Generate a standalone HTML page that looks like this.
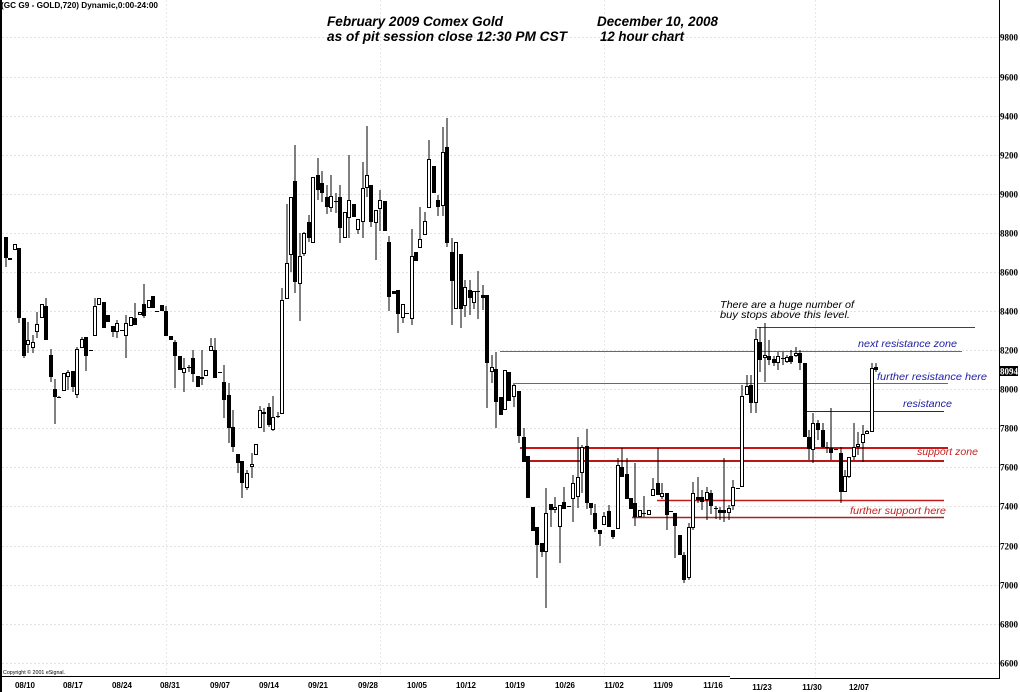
<!DOCTYPE html>
<html><head><meta charset="utf-8"><style>
html,body{margin:0;padding:0;background:#fff}
svg{display:block}
.yl{font-family:"Liberation Serif",serif;font-weight:bold;font-size:9px;fill:#000}
.dl{font-family:"Liberation Sans",sans-serif;font-weight:bold;font-size:8px;fill:#000}
.ti{font-family:"Liberation Sans",sans-serif;font-weight:bold;font-style:italic;font-size:13.5px;fill:#000}
.an{font-family:"Liberation Sans",sans-serif;font-style:italic;font-size:10.5px}
</style></head><body>
<svg width="1020" height="692" viewBox="0 0 1020 692" xmlns="http://www.w3.org/2000/svg">
<rect width="1020" height="692" fill="#fff"/>
<!-- grid -->
<g stroke="#e2e2e2" stroke-width="1" stroke-dasharray="2,2">
<path d="M2 37.5H999M2 77.5H999M2 116.5H999M2 155.5H999M2 194.5H999M2 233.5H999M2 272.5H999M2 311.5H999M2 350.5H999M2 389.5H999M2 428.5H999M2 467.5H999M2 506.5H999M2 546.5H999M2 585.5H999M2 624.5H999M2 663.5H999"/>
<path d="M166.5 0V677M380.5 0V677M604.5 0V677M815.5 0V677" stroke="#e8e8e8"/>
</g>
<!-- axes -->
<rect x="0" y="0" width="2" height="692" fill="#000"/>
<path d="M999.5 0V679" stroke="#000" stroke-width="1"/>
<path d="M0 676.5H730M730 678.5H999" stroke="#000" stroke-width="1"/>
<!-- y labels -->
<g class="yl">
<text x="1000" y="40.5">9800</text>
<text x="1000" y="80.5">9600</text>
<text x="1000" y="119.5">9400</text>
<text x="1000" y="158.5">9200</text>
<text x="1000" y="197.5">9000</text>
<text x="1000" y="236.5">8800</text>
<text x="1000" y="275.5">8600</text>
<text x="1000" y="314.5">8400</text>
<text x="1000" y="353.5">8200</text>
<text x="1000" y="392.5">8000</text>
<text x="1000" y="431.5">7800</text>
<text x="1000" y="470.5">7600</text>
<text x="1000" y="509.5">7400</text>
<text x="1000" y="549.5">7200</text>
<text x="1000" y="588.5">7000</text>
<text x="1000" y="627.5">6800</text>
<text x="1000" y="666.5">6600</text>
</g>
<rect x="999" y="366" width="19" height="10" fill="#000"/>
<text x="1000" y="374.5" class="yl" style="fill:#fff">8094</text>
<!-- date labels -->
<g class="dl" text-anchor="middle">
<text x="25" y="688">08/10</text>
<text x="73" y="688">08/17</text>
<text x="122" y="688">08/24</text>
<text x="170" y="688">08/31</text>
<text x="220" y="688">09/07</text>
<text x="269" y="688">09/14</text>
<text x="318" y="688">09/21</text>
<text x="368" y="688">09/28</text>
<text x="417" y="688">10/05</text>
<text x="466" y="688">10/12</text>
<text x="515" y="688">10/19</text>
<text x="565" y="688">10/26</text>
<text x="614" y="688">11/02</text>
<text x="663" y="688">11/09</text>
<text x="713" y="688">11/16</text>
<text x="762" y="690">11/23</text>
<text x="812" y="690">11/30</text>
<text x="859" y="690">12/07</text>
</g>
<text x="3" y="674" font-family="Liberation Sans, sans-serif" font-size="5.5" textLength="62" lengthAdjust="spacingAndGlyphs">Copyright © 2001 eSignal.</text>
<!-- header -->
<text x="1" y="8" font-family="Liberation Sans, sans-serif" font-weight="bold" font-size="8" textLength="157" lengthAdjust="spacingAndGlyphs">(GC G9 - GOLD,720) Dynamic,0:00-24:00</text>
<text x="327" y="26" class="ti" textLength="176" lengthAdjust="spacingAndGlyphs">February 2009 Comex Gold</text>
<text x="327" y="41" class="ti" textLength="240" lengthAdjust="spacingAndGlyphs">as of pit session close 12:30 PM CST</text>
<text x="597" y="26" class="ti" textLength="121" lengthAdjust="spacingAndGlyphs">December 10, 2008</text>
<text x="600" y="41" class="ti" textLength="84" lengthAdjust="spacingAndGlyphs">12 hour chart</text>
<!-- annotation lines -->
<path d="M757 327.5H975" stroke="#3434a4" stroke-width="1"/>
<path d="M500 351.5H962" stroke="#64648e" stroke-width="1"/>
<path d="M515 383.5H948" stroke="#64648e" stroke-width="1"/>
<path d="M807 411.5H944" stroke="#1c1ca4" stroke-width="1"/>
<path d="M520 448H948" stroke="#cc1414" stroke-width="2"/>
<path d="M526 461H944" stroke="#b81818" stroke-width="2"/>
<path d="M657 500.5H944" stroke="#c41a1a" stroke-width="1.5"/>
<path d="M632 517.5H944" stroke="#a42424" stroke-width="1.5"/>
<!-- annotation texts -->
<text x="720" y="308" class="an" fill="#000" textLength="134" lengthAdjust="spacingAndGlyphs">There are a huge number of</text>
<text x="720" y="318" class="an" fill="#000" textLength="130" lengthAdjust="spacingAndGlyphs">buy stops above this level.</text>
<text x="858" y="347" class="an" fill="#2020a4" textLength="99" lengthAdjust="spacingAndGlyphs">next resistance zone</text>
<text x="877" y="380" class="an" fill="#2020a4" textLength="110" lengthAdjust="spacingAndGlyphs">further resistance  here</text>
<text x="903" y="407" class="an" fill="#2020a4" textLength="49" lengthAdjust="spacingAndGlyphs">resistance</text>
<text x="917" y="455" class="an" fill="#c42020" textLength="61" lengthAdjust="spacingAndGlyphs">support zone</text>
<text x="850" y="514" class="an" fill="#c42020" textLength="96" lengthAdjust="spacingAndGlyphs">further support here</text>
<!-- wicks -->
<path fill="none" stroke="#000" stroke-width="1" d="M6 237V267M19 248V323M24 318V358M28 322V353M33 335V353M37 312V338M46 298V340M51 349V382M55 379V424M59 396V398M68 370V390M73 371V392M77 347V398M82 337V348M86 337V371M95 298V336M113 326V337M117 320V338M126 315V358M135 303V325M144 284V318M166 306V336M175 340V388M184 358V392M189 365V372M193 350V382M202 350V385M211 338V351M215 338V378M224 365V418M229 383V443M233 410V452M238 454V473M242 461V498M247 470V490M252 453V478M260 406V428M264 408V432M269 403V427M273 396V431M278 412V418M282 288V414M287 204V299M291 197V272M295 145V293M300 233V321M304 232V256M309 215V242M318 158V200M322 171V202M327 185V214M331 175V212M336 193V213M340 185V243M349 155V238M358 219V234M363 162V238M367 126V197M371 185V227M376 210V260M380 190V231M389 236V311M398 290V333M403 304V323M412 229V325M420 207V248M425 212V235M429 140V208M438 195V216M443 127V216M447 118V247M452 238V325M461 254V328M465 280V317M470 280V315M474 291V309M478 271V319M483 285V310M487 295V408M492 355V383M496 352V428M514 383V407M519 391V443M524 428V462M537 527V578M542 543V557M546 488V608M551 504V527M555 497V513M560 505V563M564 487V509M573 475V522M578 437V508M582 445V493M587 429V509M591 503V515M595 504V532M600 530V546M604 512V525M609 505V527M613 530V539M618 458V529M622 448V477M627 458V499M635 463V526M644 496V517M653 478V496M658 448V495M662 483V499M667 493V530M675 513V558M684 552V583M689 523V580M693 482V530M698 477V503M702 490V510M707 487V520M711 490V514M716 506V519M720 507V520M724 458V522M729 505V520M733 480V510M742 385V487M747 375V395M751 375V413M756 329V413M760 327V372M765 323V382M769 340V365M774 356V366M778 352V370M783 352V365M787 355V363M791 350V364M796 347V357M800 350V370M809 430V460M813 413V463M818 420V440M823 423V448M827 442V453M831 408V460M841 447V503M845 470V492M849 457V478M854 423V460M858 432V455M863 425V462M867 430V434M872 363V432M876 363V372"/>
<!-- ticks -->
<path fill="none" stroke="#000" stroke-width="1" d="M57 397.5h4M89 350.5h4M120 330.5h4M155 311.5h4M187 367.5h4M218 372.5h4M276 416.5h4M334 201.5h4M405 313.5h4M476 291.5h4M567 506.5h4M642 513.5h4M669 511.5h4M714 508.5h4M736 488.5h4M781 358.5h4M825 447.5h4M834 449.5h4"/>
<!-- white bodies -->
<path fill="#fff" stroke="#000" stroke-width="1" d="M13.5 244.5h3v5h-3zM26.5 340.5h3v4h-3zM31.5 342.5h3v5h-3zM35.5 324.5h3v7h-3zM40.5 304.5h3v13h-3zM62.5 373.5h3v17h-3zM66.5 372.5h3v4h-3zM75.5 349.5h3v45h-3zM80.5 339.5h3v8h-3zM93.5 306.5h3v29h-3zM97.5 298.5h3v6h-3zM115.5 323.5h3v8h-3zM124.5 323.5h3v12h-3zM129.5 317.5h3v8h-3zM138.5 312.5h3v2h-3zM147.5 300.5h3v7h-3zM182.5 368.5h3v4h-3zM204.5 370.5h3v5h-3zM209.5 346.5h3v4h-3zM245.5 473.5h3v14h-3zM250.5 464.5h3v2h-3zM254.5 444.5h3v10h-3zM258.5 410.5h3v17h-3zM271.5 417.5h3v12h-3zM280.5 300.5h3v113h-3zM285.5 263.5h3v35h-3zM289.5 197.5h3v57h-3zM298.5 256.5h3v27h-3zM302.5 233.5h3v20h-3zM311.5 177.5h3v65h-3zM329.5 196.5h3v11h-3zM343.5 212.5h3v25h-3zM347.5 200.5h3v17h-3zM356.5 219.5h3v10h-3zM361.5 188.5h3v33h-3zM365.5 175.5h3v12h-3zM374.5 210.5h3v12h-3zM378.5 200.5h3v8h-3zM401.5 304.5h3v13h-3zM410.5 256.5h3v62h-3zM418.5 239.5h3v8h-3zM423.5 221.5h3v13h-3zM427.5 159.5h3v48h-3zM441.5 152.5h3v53h-3zM454.5 242.5h3v66h-3zM463.5 287.5h3v18h-3zM472.5 291.5h3v11h-3zM490.5 367.5h3v4h-3zM503.5 370.5h3v39h-3zM512.5 385.5h3v11h-3zM544.5 513.5h3v38h-3zM553.5 507.5h3v2h-3zM558.5 505.5h3v21h-3zM571.5 483.5h3v15h-3zM576.5 477.5h3v19h-3zM580.5 447.5h3v25h-3zM602.5 516.5h3v8h-3zM616.5 465.5h3v63h-3zM638.5 510.5h3v6h-3zM647.5 510.5h3v4h-3zM651.5 489.5h3v6h-3zM660.5 493.5h3v3h-3zM687.5 527.5h3v50h-3zM691.5 493.5h3v34h-3zM705.5 492.5h3v7h-3zM727.5 508.5h3v4h-3zM731.5 487.5h3v18h-3zM740.5 396.5h3v90h-3zM745.5 386.5h3v8h-3zM754.5 339.5h3v63h-3zM763.5 355.5h3v2h-3zM776.5 356.5h3v6h-3zM785.5 357.5h3v4h-3zM794.5 353.5h3v2h-3zM811.5 423.5h3v26h-3zM843.5 476.5h3v15h-3zM847.5 457.5h3v19h-3zM852.5 447.5h3v9h-3zM856.5 444.5h3v2h-3zM861.5 434.5h3v8h-3zM865.5 431.5h3v2h-3zM870.5 368.5h3v63h-3z"/>
<!-- black bodies -->
<path fill="#000" d="M4 237h4v21h-4zM8 258h4v2h-4zM17 248h4v70h-4zM22 318h4v38h-4zM44 306h4v34h-4zM49 355h4v22h-4zM53 389h4v8h-4zM71 371h4v16h-4zM84 337h4v19h-4zM102 302h4v26h-4zM106 315h4v7h-4zM111 326h4v6h-4zM133 318h4v7h-4zM142 304h4v12h-4zM151 296h4v12h-4zM160 305h4v6h-4zM164 311h4v25h-4zM169 336h4v4h-4zM173 342h4v14h-4zM178 356h4v14h-4zM191 358h4v16h-4zM196 376h4v11h-4zM200 377h4v2h-4zM213 350h4v28h-4zM222 382h4v18h-4zM227 395h4v33h-4zM231 427h4v20h-4zM236 454h4v9h-4zM240 461h4v22h-4zM262 412h4v2h-4zM267 407h4v18h-4zM293 181h4v101h-4zM307 222h4v16h-4zM316 175h4v15h-4zM320 183h4v10h-4zM325 197h4v10h-4zM338 197h4v31h-4zM352 204h4v13h-4zM369 185h4v37h-4zM383 201h4v30h-4zM387 242h4v55h-4zM392 291h4v3h-4zM396 290h4v24h-4zM414 252h4v9h-4zM432 166h4v27h-4zM436 200h4v7h-4zM445 147h4v96h-4zM450 252h4v29h-4zM459 254h4v55h-4zM468 290h4v8h-4zM481 295h4v3h-4zM485 295h4v68h-4zM494 369h4v33h-4zM499 397h4v18h-4zM507 372h4v29h-4zM517 391h4v45h-4zM522 437h4v25h-4zM526 456h4v42h-4zM531 507h4v24h-4zM535 527h4v18h-4zM540 543h4v9h-4zM549 504h4v6h-4zM562 502h4v7h-4zM585 446h4v57h-4zM589 503h4v5h-4zM593 513h4v16h-4zM598 530h4v4h-4zM607 511h4v16h-4zM611 530h4v7h-4zM620 467h4v10h-4zM625 474h4v25h-4zM629 498h4v11h-4zM633 503h4v14h-4zM656 483h4v12h-4zM665 493h4v22h-4zM673 513h4v13h-4zM678 535h4v20h-4zM682 555h4v25h-4zM696 497h4v3h-4zM700 497h4v5h-4zM709 493h4v13h-4zM718 510h4v3h-4zM722 510h4v3h-4zM749 385h4v18h-4zM758 342h4v18h-4zM767 356h4v4h-4zM772 359h4v4h-4zM789 356h4v6h-4zM798 353h4v10h-4zM803 363h4v74h-4zM807 437h4v12h-4zM816 423h4v7h-4zM821 430h4v17h-4zM829 448h4v5h-4zM839 453h4v39h-4zM874 367h4v3h-4z"/>
</svg>
</body></html>
